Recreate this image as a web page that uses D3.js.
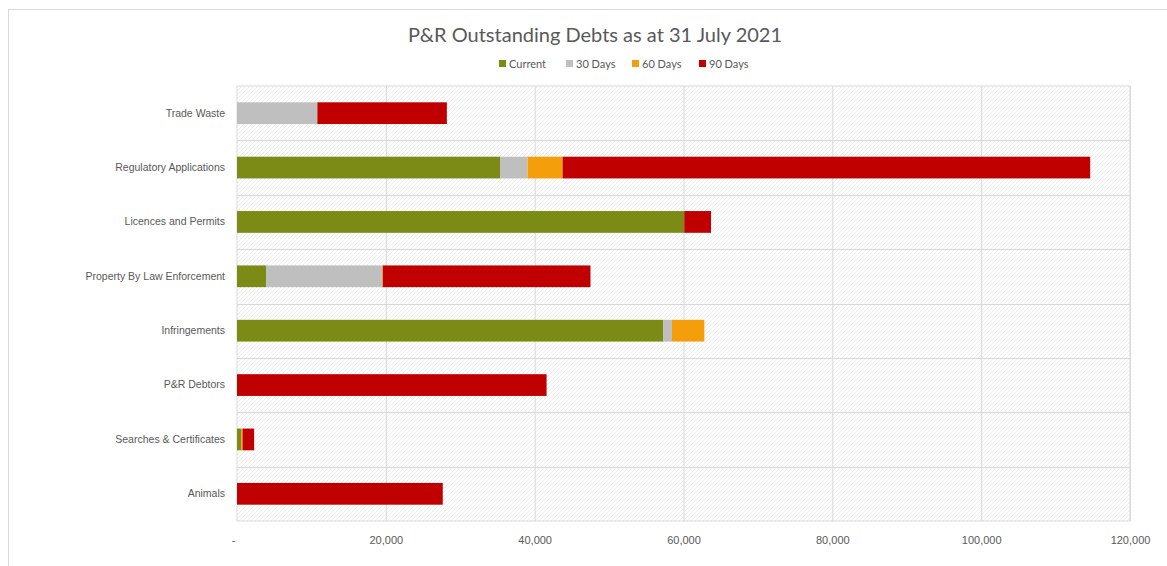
<!DOCTYPE html>
<html>
<head>
<meta charset="utf-8">
<script src="https://cdn.jsdelivr.net/npm/d3@7"></script>
<style>
  body { margin: 0; background: #fff; }
  svg { font-family: Lato, "Open Sans", sans-serif; }
</style>
</head>
<body>
<div id="chart"></div>
<script>
// categories top to bottom
var categories = ["Trade Waste", "Regulatory Applications", "Licences and Permits",
    "Property By Law Enforcement", "Infringements", "P&R Debtors",
    "Searches & Certificates", "Animals"];
var seriesNames = ["Current", "30 Days", "60 Days", "90 Days"];
var current = [0, 35400, 60100, 3900, 57300, 0, 550, 0];
var days30 = [10800, 3650, 0, 15600, 1150, 0, 0, 0];
var days60 = [0, 4700, 0, 100, 4350, 0, 200, 0];
var days90 = [17400, 70900, 3600, 27900, 0, 41600, 1550, 27650];
var xTicks = [0, 20000, 40000, 60000, 80000, 100000, 120000];
var colors = ["#7b8b16", "#bfbfbf", "#f59e0b", "#c00000"];

var width = 1167, height = 566;
var margin = { top: 86, right: 37, bottom: 45, left: 237 };

var svg = d3.select("#chart").append("svg")
    .attr("width", width)
    .attr("height", height);

// hatch pattern for plot area
var defs = svg.append("defs");
var pat = defs.append("pattern")
    .attr("id", "hatch")
    .attr("patternUnits", "userSpaceOnUse")
    .attr("width", 4).attr("height", 4);
pat.append("rect").attr("width", 4).attr("height", 4).attr("fill", "#ffffff");
pat.append("path")
    .attr("d", "M-1,1 l2,-2 M0,4 l4,-4 M3,5 l2,-2")
    .attr("stroke", "#ececec")
    .attr("stroke-width", 1);

// outer chart frame
svg.append("rect")
    .attr("x", 8.5).attr("y", 9.5)
    .attr("width", width).attr("height", height)
    .attr("fill", "none")
    .attr("stroke", "#d9d9d9");

var x = d3.scaleLinear()
    .domain([0, 120000])
    .range([margin.left, width - margin.right]);
var y = d3.scaleBand()
    .domain(categories)
    .range([margin.top, height - margin.bottom])
    .paddingInner(0.6).paddingOuter(0.3);

// plot background
svg.append("rect")
    .attr("x", x(0)).attr("y", margin.top)
    .attr("width", x(120000) - x(0))
    .attr("height", height - margin.bottom - margin.top)
    .attr("fill", "url(#hatch)")
    .attr("stroke", "#d9d9d9");

// vertical grid
svg.append("g")
    .selectAll("line")
    .data(xTicks.slice(1))
    .enter().append("line")
    .attr("x1", d => x(d) + 0.5).attr("x2", d => x(d) + 0.5)
    .attr("y1", margin.top).attr("y2", height - margin.bottom)
    .attr("stroke", "#d9d9d9");

// horizontal grid between categories
var rowH = (height - margin.bottom - margin.top) / categories.length;
svg.append("g")
    .selectAll("line")
    .data(categories.slice(1))
    .enter().append("line")
    .attr("x1", x(0)).attr("x2", x(120000))
    .attr("y1", (d, i) => Math.round(margin.top + rowH * (i + 1)) + 0.5)
    .attr("y2", (d, i) => Math.round(margin.top + rowH * (i + 1)) + 0.5)
    .attr("stroke", "#d9d9d9");

// stacked bars
var rows = categories.map((c, i) => ({
    cat: c, "Current": current[i], "30 Days": days30[i], "60 Days": days60[i], "90 Days": days90[i]
}));
var stack = d3.stack().keys(seriesNames)(rows);

svg.append("g")
    .selectAll("g")
    .data(stack)
    .enter().append("g")
    .attr("fill", (d, i) => colors[i])
    .selectAll("rect")
    .data(d => d)
    .enter().append("rect")
    .attr("x", d => x(d[0]))
    .attr("y", d => y(d.data.cat))
    .attr("width", d => x(d[1]) - x(d[0]))
    .attr("height", y.bandwidth());

// category labels
var yAxis = svg.append("g")
    .attr("transform", "translate(" + (x(0) - 12) + ",0)")
    .call(d3.axisLeft(y).tickSize(0).tickPadding(0));
yAxis.select(".domain").remove();
yAxis.selectAll("text")
    .attr("fill", "#595959")
    .style("font-size", "10.5px");

// x axis labels
var xAxis = svg.append("g")
    .attr("transform", "translate(0," + (height - margin.bottom + 12) + ")")
    .call(d3.axisBottom(x).tickValues(xTicks).tickSize(0)
        .tickFormat(d => d === 0 ? "-" : d3.format(",")(d)));
xAxis.select(".domain").remove();
xAxis.selectAll("text")
    .attr("fill", "#595959")
    .style("font-size", "11px");
xAxis.selectAll(".tick").filter(d => d === 0).select("text").attr("dx", -4);

// title
svg.append("text")
    .attr("x", 595).attr("y", 42)
    .attr("text-anchor", "middle")
    .attr("fill", "#595959")
    .style("font-size", "20px")
    .text("P&R Outstanding Debts as at 31 July 2021");

// legend
var legendX = [499, 566, 632, 699];
var legend = svg.append("g")
    .selectAll("g")
    .data(seriesNames)
    .enter().append("g")
    .attr("transform", (d, i) => "translate(" + legendX[i] + ",60)");
legend.append("rect")
    .attr("width", 7).attr("height", 7)
    .attr("fill", (d, i) => colors[i]);
legend.append("text")
    .attr("x", 10).attr("y", 7.5)
    .attr("fill", "#595959")
    .style("font-size", "11px")
    .text(d => d);
</script>
</body>
</html>
